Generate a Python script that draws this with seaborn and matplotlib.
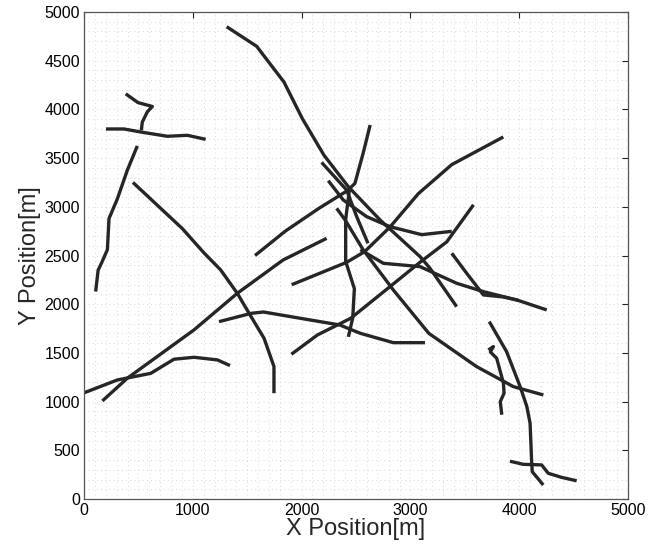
import numpy as np
import pandas as pd
import matplotlib
matplotlib.use("Agg")
import matplotlib.pyplot as plt
import seaborn as sns

# ---- data: one polyline per track (X, Y in metres) ----
t01_x = [107, 130, 160, 215, 230, 306, 398, 490]
t01_y = [2130, 2350, 2420, 2560, 2880, 3080, 3375, 3625]

t02_x = [383, 496, 628, 582, 536, 527]
t02_y = [4160, 4070, 4030, 3975, 3870, 3785]

t03_x = [202, 368, 521, 766, 950, 1118]
t03_y = [3799, 3799, 3768, 3724, 3734, 3693]

t04_x = [450, 904, 1100, 1256, 1409, 1517, 1655, 1746, 1746]
t04_y = [3250, 2776, 2530, 2352, 2112, 1907, 1650, 1360, 1086]

t05_x = [0, 306, 613, 827, 1011, 1226, 1342]
t05_y = [1090, 1222, 1290, 1435, 1455, 1428, 1370]

t06_x = [169, 398, 1011, 1409, 1830, 2230]
t06_y = [1007, 1240, 1736, 2112, 2454, 2676]

t07_x = [1572, 1850, 2160, 2420, 2490, 2568, 2630]
t07_y = [2500, 2750, 2985, 3165, 3240, 3560, 3840]

t08_x = [2440, 2405, 2405, 2485, 2470, 2430]
t08_y = [3180, 2870, 2440, 2160, 1860, 1665]

t09_x = [1909, 2414, 2580, 2813, 3073, 3380, 3854]
t09_y = [2200, 2430, 2540, 2793, 3135, 3433, 3717]

t10_x = [1241, 1540, 1650, 1990, 2350, 2540, 2843, 3134]
t10_y = [1821, 1907, 1920, 1855, 1787, 1701, 1605, 1605]

t11_x = [1906, 2145, 2451, 2812, 3088, 3334, 3580]
t11_y = [1486, 1684, 1855, 2180, 2430, 2640, 3020]

t12_x = [2184, 2414, 2506, 2610]
t12_y = [3456, 3172, 2900, 2625]

t13_x = [1311, 1587, 1838, 2007, 2206, 2429, 2721, 3088, 3180, 3425]
t13_y = [4849, 4648, 4281, 3905, 3529, 3207, 2865, 2489, 2369, 1975]

t14_x = [2245, 2383, 2598, 2812, 3104, 3380]
t14_y = [3268, 3070, 2899, 2796, 2714, 2748]

t15_x = [2322, 2400, 2567, 2843, 3170, 3609, 3946, 4222]
t15_y = [2984, 2865, 2557, 2146, 1700, 1359, 1154, 1068]

t16_x = [2540, 2751, 3088, 3425, 3671, 3977, 4253]
t16_y = [2560, 2420, 2386, 2215, 2129, 2044, 1941]

t17_x = [3380, 3517, 3671, 3850, 3990]
t17_y = [2523, 2318, 2095, 2075, 2040]

t18_x = [3725, 3884, 4010, 4070, 4100, 4115, 4120, 4221]
t18_y = [1821, 1513, 1150, 950, 778, 368, 280, 144]

t19_x = [3717, 3763, 3735, 3793, 3855, 3861, 3826, 3840]
t19_y = [1530, 1565, 1510, 1445, 1190, 1086, 1000, 865]

t20_x = [3915, 4037, 4206, 4267, 4390, 4528]
t20_y = [388, 356, 350, 264, 222, 187]

tracks = [
    (t01_x, t01_y), (t02_x, t02_y), (t03_x, t03_y), (t04_x, t04_y),
    (t05_x, t05_y), (t06_x, t06_y), (t07_x, t07_y), (t08_x, t08_y),
    (t09_x, t09_y), (t10_x, t10_y), (t11_x, t11_y), (t12_x, t12_y),
    (t13_x, t13_y), (t14_x, t14_y), (t15_x, t15_y), (t16_x, t16_y),
    (t17_x, t17_y), (t18_x, t18_y), (t19_x, t19_y), (t20_x, t20_y),
]

x_ticks = [0, 1000, 2000, 3000, 4000, 5000]
y_ticks = [0, 500, 1000, 1500, 2000, 2500, 3000, 3500, 4000, 4500, 5000]

rows = []
for i, (xs, ys) in enumerate(tracks):
    for j, (x, y) in enumerate(zip(xs, ys)):
        rows.append({"track": i, "order": j, "x": x, "y": y})
df = pd.DataFrame(rows)

sns.set_style("white")
plt.rcParams["font.family"] = ["Liberation Sans", "DejaVu Sans"]

fig = plt.figure(figsize=(6.58, 5.46), dpi=100)
ax = fig.add_axes([84 / 658, 47 / 546, 544 / 658, 487 / 546])

sns.lineplot(data=df, x="x", y="y", units="track", estimator=None, sort=False,
             color="#262626", linewidth=2.4, legend=False, ax=ax,
             solid_capstyle="butt", solid_joinstyle="round")

ax.set_xlim(0, 5000)
ax.set_ylim(0, 5000)
ax.set_xticks(x_ticks)
ax.set_yticks(y_ticks)
ax.set_xticks(np.arange(0, 5001, 100), minor=True)
ax.set_yticks(np.arange(0, 5001, 100), minor=True)
ax.grid(which="both", color="#cccccc", linestyle=(0, (1, 4)), linewidth=0.6)
ax.set_axisbelow(True)
ax.tick_params(which="major", direction="in", length=4, width=0.8,
               top=True, right=True, labelsize=11.5, colors="#222222",
               labelcolor="black", pad=3)
ax.tick_params(which="minor", length=0)
for s in ax.spines.values():
    s.set_color("#555555")
    s.set_linewidth(0.9)

ax.set_xlabel("X Position[m]", fontsize=17, labelpad=0)
ax.set_ylabel("Y Position[m]", fontsize=17, labelpad=2)

fig.savefig("out.png", dpi=100)
